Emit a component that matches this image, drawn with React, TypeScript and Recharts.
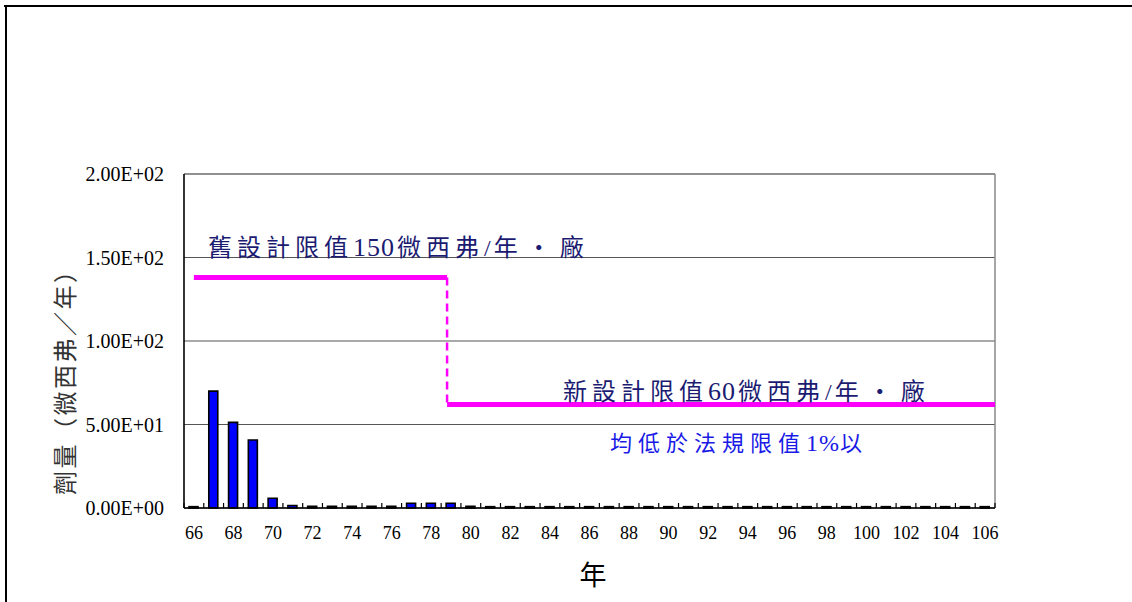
import {
  ComposedChart,
  Bar,
  Line,
  XAxis,
  YAxis,
  CartesianGrid,
  ReferenceLine,
} from 'recharts';

// 民國年
const years = [
  66, 67, 68, 69, 70, 71, 72, 73, 74, 75, 76, 77, 78, 79, 80, 81, 82, 83, 84, 85, 86,
  87, 88, 89, 90, 91, 92, 93, 94, 95, 96, 97, 98, 99, 100, 101, 102, 103, 104, 105, 106,
];

// 劑量 (微西弗/年)
const doses = [
  0.8, 70, 51.3, 40.7, 5.8, 1.5, 1, 1, 1, 1, 1, 2.8, 2.8, 2.8, 1, 0.8, 0.8,
  0.8, 0.8, 0.8, 0.8, 0.8, 0.8, 0.8, 0.8, 0.8, 0.8, 0.8, 0.8, 0.8, 0.8, 0.8, 0.8, 0.8,
  0.8, 0.8, 0.8, 0.8, 0.8, 0.8, 0.8,
];

const yearLabels = [66, 68, 70, 72, 74, 76, 78, 80, 82, 84, 86, 88, 90, 92, 94, 96, 98, 100, 102, 104, 106];
const doseTicks = [0, 50, 100, 150, 200];

// 設計限值線 (as drawn on the chart)
const oldLimitYears = [66, 78.8];
const oldLimitValues = [138, 138];
const newLimitYears = [78.8, 106.5];
const newLimitValues = [62, 62];

const barData = years.map((year, i) => ({ year, dose: doses[i] }));
const oldLimit = oldLimitYears.map((year, i) => ({ year, limit: oldLimitValues[i] }));
const newLimit = newLimitYears.map((year, i) => ({ year, limit: newLimitValues[i] }));
const stepDown = [
  { year: oldLimitYears[1], limit: oldLimitValues[1] },
  { year: newLimitYears[0], limit: newLimitValues[0] },
];

const W = 1132;
const H = 602;
const M = { top: 174, right: 137, left: 84, bottom: 0 };
const Y_W = 100;
const X_DOMAIN: [number, number] = [65.5, 106.5];
const CAT_W = (W - M.left - M.right - Y_W) / years.length;

const SERIF = '"Liberation Serif", "Times New Roman", "Noto Sans CJK TC", serif';
const CJK = '"Liberation Serif", "Noto Sans CJK TC", serif';

const fmtE = (v: number) => {
  const [m, e] = v.toExponential(2).toUpperCase().split('E');
  const sign = e.startsWith('-') ? '-' : '+';
  const digits = e.replace(/[+-]/, '').padStart(2, '0');
  return `${m}E${sign}${digits}`;
};

// label at even years, small inside tick marks at category boundaries
const XTick = (props: any) => {
  const { x, y, payload } = props;
  const h = CAT_W / 2;
  return (
    <g>
      <line x1={x - h} x2={x - h} y1={y} y2={y - 5} stroke="#000" strokeWidth={1.2} />
      <line x1={x + h} x2={x + h} y1={y} y2={y - 5} stroke="#000" strokeWidth={1.2} />
      <text x={x} y={y + 31} textAnchor="middle" fontFamily={SERIF} fontSize={18} fill="#000">
        {payload.value}
      </text>
    </g>
  );
};

export default function App() {
  return (
    <div style={{ position: 'relative', width: W, height: H, background: '#fff' }}>
      <style>{'body{margin:0;}'}</style>
      <ComposedChart width={W} height={H} data={barData} margin={M}>
        <CartesianGrid horizontal vertical={false} stroke="#555" strokeWidth={1.2} />
        <XAxis
          dataKey="year"
          type="number"
          domain={X_DOMAIN}
          allowDataOverflow
          ticks={yearLabels}
          interval={0}
          tick={<XTick />}
          tickLine={false}
          tickSize={0}
          tickMargin={0}
          height={94}
          axisLine={{ stroke: '#000', strokeWidth: 1.6 }}
        />
        <XAxis xAxisId="limit" dataKey="year" type="number" domain={X_DOMAIN} allowDataOverflow hide />
        <YAxis
          domain={[0, 200]}
          ticks={doseTicks}
          tickFormatter={fmtE}
          width={Y_W}
          tickLine={false}
          tickSize={0}
          tickMargin={20}
          axisLine={{ stroke: '#000', strokeWidth: 1.6 }}
          tick={{ fill: '#000', fontSize: 20, fontFamily: SERIF }}
        />
        <ReferenceLine x={106.5} stroke="#888" strokeWidth={1.5} />
        <ReferenceLine y={200} stroke="#888" strokeWidth={1.5} />
        <Bar
          dataKey="dose"
          barSize={9}
          fill="#0000ff"
          stroke="#000"
          strokeWidth={1.6}
          isAnimationActive={false}
        />
        <Line
          xAxisId="limit"
          data={oldLimit}
          dataKey="limit"
          stroke="#ff00ff"
          strokeWidth={5}
          dot={false}
          activeDot={false}
          isAnimationActive={false}
        />
        <Line
          xAxisId="limit"
          data={stepDown}
          dataKey="limit"
          stroke="#ff00ff"
          strokeWidth={2.5}
          strokeDasharray="8 5"
          dot={false}
          activeDot={false}
          isAnimationActive={false}
        />
        <Line
          xAxisId="limit"
          data={newLimit}
          dataKey="limit"
          stroke="#ff00ff"
          strokeWidth={5}
          dot={false}
          activeDot={false}
          isAnimationActive={false}
        />
      </ComposedChart>

      <svg
        width={W}
        height={H}
        style={{ position: 'absolute', left: 0, top: 0, pointerEvents: 'none' }}
      >
        {/* outer frame */}
        <line x1={4} x2={W} y1={6} y2={6} stroke="#000" strokeWidth={2} />
        <line x1={6} x2={6} y1={6} y2={H} stroke="#000" strokeWidth={2} />

        <text x={208} y={256} fontFamily={CJK} fontSize={24} fill="#1b1b72">
          <tspan letterSpacing={5}>舊設計限值</tspan>
          <tspan fontSize={26} letterSpacing={1}>150</tspan>
          <tspan dx={2} letterSpacing={5}>微西弗</tspan>
          <tspan letterSpacing={3}>/</tspan>
          <tspan letterSpacing={9}>年・廠</tspan>
        </text>
        <text x={563} y={400} fontFamily={CJK} fontSize={24} fill="#1b1b72">
          <tspan letterSpacing={5}>新設計限值</tspan>
          <tspan fontSize={26} letterSpacing={1}>60</tspan>
          <tspan dx={2} letterSpacing={5}>微西弗</tspan>
          <tspan letterSpacing={3}>/</tspan>
          <tspan letterSpacing={9}>年・廠</tspan>
        </text>
        <text x={610} y={451} fontFamily={CJK} fontSize={22} fill="#1a1ae6">
          <tspan letterSpacing={6}>均低於法規限值</tspan>
          <tspan fontSize={24} letterSpacing={1}>1%</tspan>
          <tspan>以</tspan>
        </text>

        <text
          x={0}
          y={0}
          transform="translate(74 377) rotate(-90)"
          textAnchor="middle"
          fontFamily={CJK}
          fontSize={24}
          fill="#333"
          textLength={236}
          lengthAdjust="spacing"
        >
          劑量（微西弗／年）
        </text>

        <text x={593} y={585} textAnchor="middle" fontFamily={CJK} fontSize={27} fill="#000">
          年
        </text>
      </svg>
    </div>
  );
}
